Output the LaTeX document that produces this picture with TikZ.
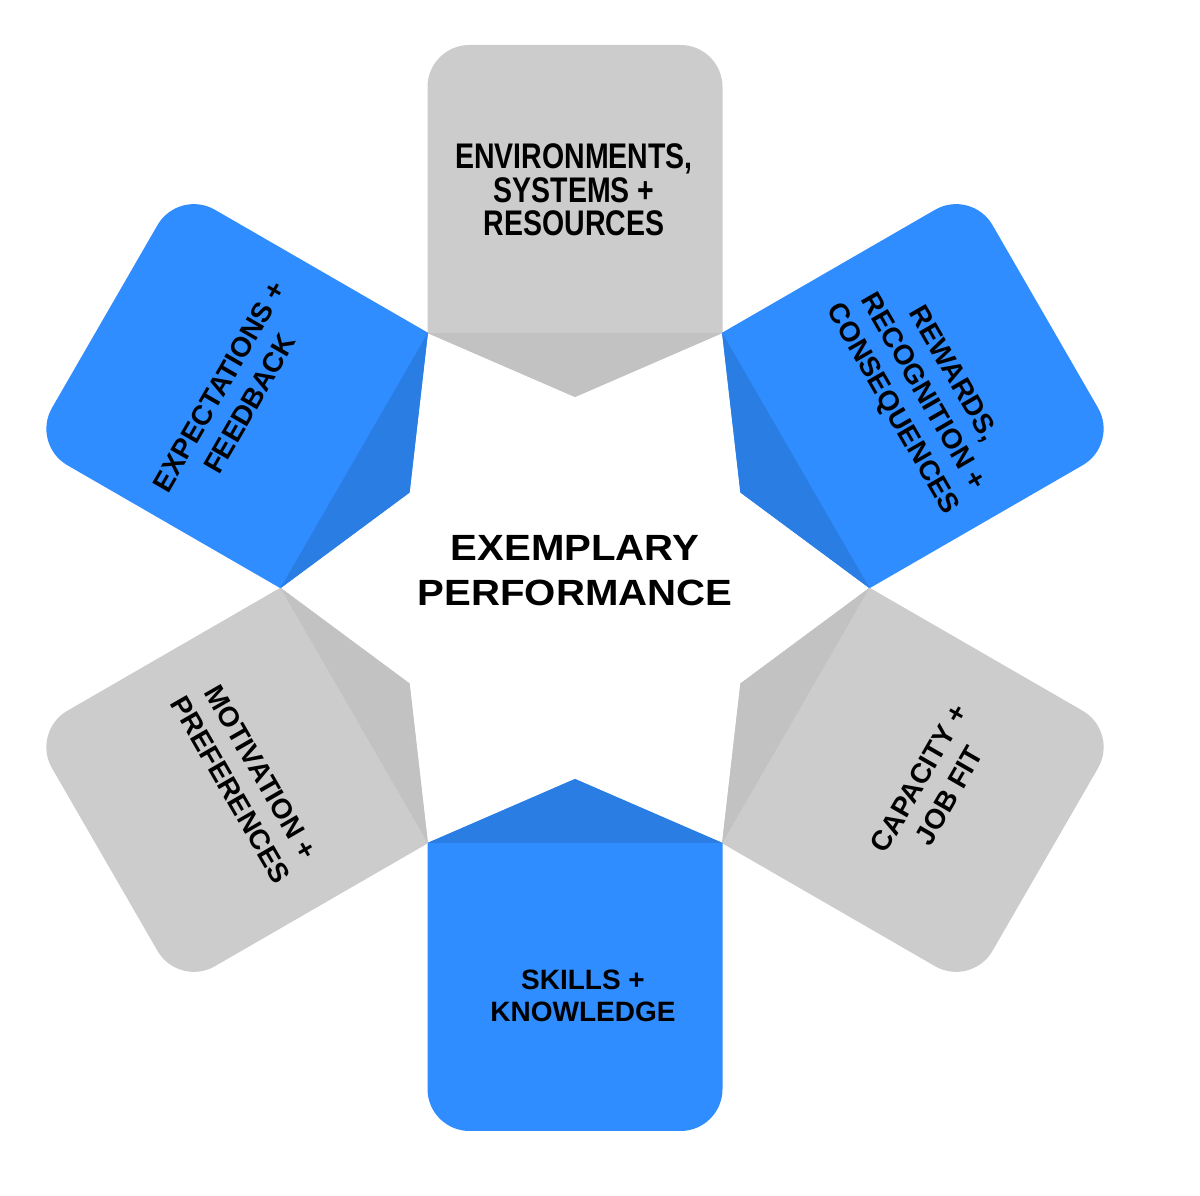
\documentclass[tikz,border=0pt]{standalone}
\usepackage{fontspec}
\setmainfont{Liberation Sans}
\newfontfamily\narrowsans{Liberation Sans}[FakeStretch=0.80]
\newfontfamily\widesans{Liberation Sans}[FakeStretch=1.10]
\definecolor{bluemain}{RGB}{47,141,255}
\definecolor{bluetip}{RGB}{42,125,226}
\definecolor{graymain}{RGB}{205,204,204}
\definecolor{graytip}{RGB}{195,194,195}
\newcommand\petal[3]{%
  \begin{scope}[shift={(575,608)}, rotate=#1]
    \fill[#2] (-147.5,255) -- (-147.5,501)
      arc[start angle=180, end angle=90, radius=42pt] -- (105.5,543)
      arc[start angle=90, end angle=0, radius=42pt] -- (147.5,255) -- (0,191) -- cycle;
    \fill[#3] (-147.5,255) -- (0,191) -- (147.5,255) -- cycle;
  \end{scope}}
\tikzset{
  lbl/.style={align=center, inner sep=0pt, text=black,
    font=\bfseries\fontsize{28}{35}\selectfont},
}
\begin{document}
\begin{tikzpicture}[x=1pt, y=1pt]
\fill[white] (0,0) rectangle (1200,1196);
\useasboundingbox (0,0) rectangle (1200,1196);
\petal{0}{graymain}{graytip}
\petal{-60}{bluemain}{bluetip}
\petal{-120}{graymain}{graytip}
\petal{180}{bluemain}{bluetip}
\petal{120}{graymain}{graytip}
\petal{60}{bluemain}{bluetip}
\node[lbl, font=\narrowsans\bfseries\fontsize{35.6}{33.3}\selectfont] (top) at (574,1006)
  {ENVIRONMENTS,\\SYSTEMS +\\RESOURCES};
\node[lbl, rotate=-60] (ur) at (922,804) {REWARDS,\\RECOGNITION +\\CONSEQUENCES};
\node[lbl, rotate=60] (lr) at (934,409) {CAPACITY +\\JOB FIT};
\node[lbl, font=\bfseries\fontsize{28}{32}\selectfont] (bot) at (583,200) {SKILLS +\\KNOWLEDGE};
\node[lbl, rotate=-60] (ll) at (246,415) {MOTIVATION +\\PREFERENCES};
\node[lbl, rotate=60] (ul) at (234.5,801) {EXPECTATIONS +\\FEEDBACK};
\node[lbl, font=\widesans\bfseries\fontsize{36.5}{44.3}\selectfont] (centre) at (575,625.5)
  {EXEMPLARY\\PERFORMANCE};
\end{tikzpicture}
\end{document}
